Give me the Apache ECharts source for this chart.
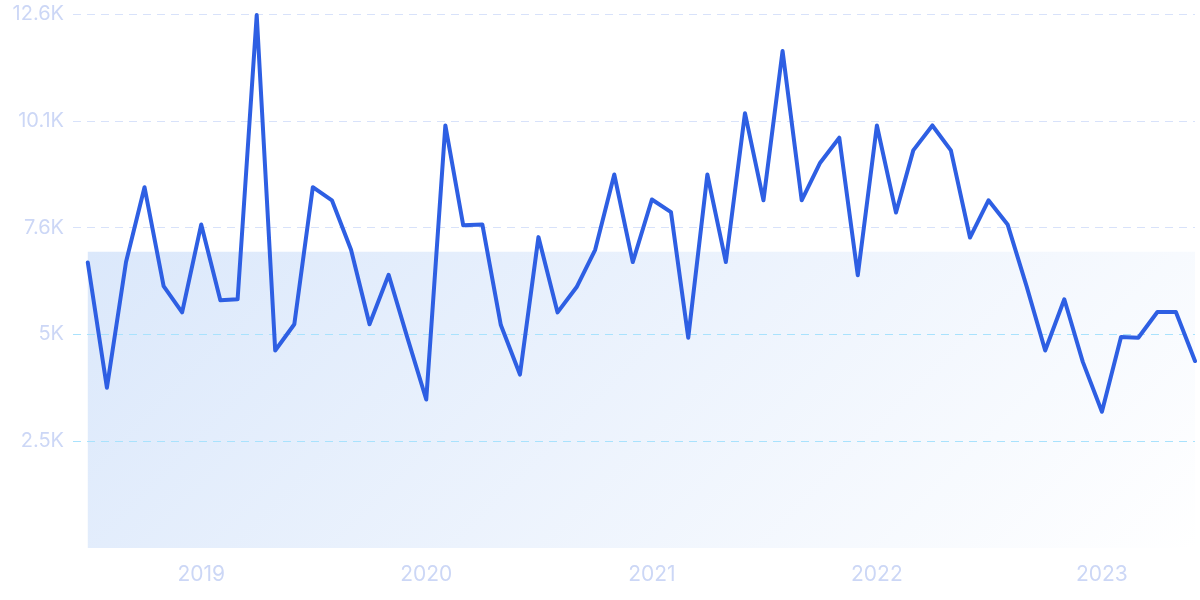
<!DOCTYPE html>
<html>
<head>
<meta charset="utf-8">
<style>
  html, body { margin: 0; padding: 0; background: #ffffff; }
  #chart { width: 1200px; height: 600px; }
</style>
<script src="https://cdn.jsdelivr.net/npm/echarts@6/dist/echarts.min.js"></script>
</head>
<body>
<div id="chart"></div>
<script>
// ---- data ----
const months = [
  '2018-07-01','2018-08-01','2018-09-01','2018-10-01','2018-11-01','2018-12-01',
  '2019-01-01','2019-02-01','2019-03-01','2019-04-01','2019-05-01','2019-06-01',
  '2019-07-01','2019-08-01','2019-09-01','2019-10-01','2019-11-01','2019-12-01',
  '2020-01-01','2020-02-01','2020-03-01','2020-04-01','2020-05-01','2020-06-01',
  '2020-07-01','2020-08-01','2020-09-01','2020-10-01','2020-11-01','2020-12-01',
  '2021-01-01','2021-02-01','2021-03-01','2021-04-01','2021-05-01','2021-06-01',
  '2021-07-01','2021-08-01','2021-09-01','2021-10-01','2021-11-01','2021-12-01',
  '2022-01-01','2022-02-01','2022-03-01','2022-04-01','2022-05-01','2022-06-01',
  '2022-07-01','2022-08-01','2022-09-01','2022-10-01','2022-11-01','2022-12-01',
  '2023-01-01','2023-02-01','2023-03-01','2023-04-01','2023-05-01','2023-06-01'
];
const values = [
  6750, 3790, 6760, 8530, 6190, 5570,
  7650, 5860, 5880, 12600, 4670, 5290,
  8530, 8220, 7050, 5290, 6460, 4990,
  3510, 9990, 7630, 7650, 5270, 4100,
  7350, 5570, 6170, 7050, 8830, 6760,
  8240, 7940, 4970, 8830, 6760, 10280,
  8220, 11750, 8220, 9110, 9700, 6450,
  9990, 7930, 9400, 9990, 9400, 7340,
  8220, 7650, 6180, 4670, 5880, 4400,
  3220, 4990, 4970, 5580, 5580, 4420
];
const yTickLabels = ['', '2.5K', '5K', '7.6K', '10.1K', '12.6K'];
const yMax = 12625;
const yInterval = 2525;
const lowGridValues = [2525, 5050];
const xMin = '2018-06-07';
const xMax = '2023-06-01';

const seriesData = months.map((m, i) => [m, values[i]]);
const average = values.reduce((a, b) => a + b, 0) / values.length;

const chart = echarts.init(document.getElementById('chart'), null, { renderer: 'canvas' });
const labelColor = '#ccd7f6';
const option = {
  animation: false,
  backgroundColor: '#ffffff',
  grid: { left: 73, right: 5, top: 14, bottom: 52, containLabel: false },
  xAxis: {
    type: 'time',
    min: xMin,
    max: xMax,
    minInterval: 365 * 24 * 3600 * 1000,
    splitNumber: 5,
    axisLine: { show: false },
    axisTick: { show: false },
    splitLine: { show: false },
    axisLabel: {
      formatter: '{yyyy}',
      color: labelColor,
      fontSize: 21,
      fontFamily: 'Inter',
      margin: 16,
      showMinLabel: false,
      showMaxLabel: false
    }
  },
  yAxis: {
    type: 'value',
    min: 0,
    max: yMax,
    interval: yInterval,
    axisLine: { show: false },
    axisTick: { show: false },
    axisLabel: {
      color: labelColor,
      fontSize: 20,
      fontFamily: 'Inter',
      margin: 9,
      formatter: (v) => yTickLabels[Math.round(v / yInterval)] || ''
    },
    splitLine: {
      show: true,
      lineStyle: {
        color: ['rgba(0,0,0,0)', '#a9e2fd', '#a9e2fd', '#d8e2fa', '#d8e2fa', '#d8e2fa'],
        width: 1,
        type: [8, 6]
      }
    }
  },
  series: [{
    type: 'line',
    data: seriesData,
    showSymbol: false,
    symbol: 'none',
    lineStyle: { color: '#2e5fe3', width: 4, join: 'round', cap: 'round' },
    itemStyle: { color: '#2e5fe3' },
    z: 5,
    markArea: {
      silent: true,
      z: 1,
      itemStyle: {
        color: new echarts.graphic.LinearGradient(0, 0, 0.634, 2.37, [
          { offset: 0, color: '#dbe8fb' },
          { offset: 1, color: '#ffffff' }
        ])
      },
      data: [[
        { xAxis: months[0], yAxis: 0 },
        { xAxis: months[months.length - 1], yAxis: average }
      ]]
    },
    markLine: {
      silent: true,
      symbol: 'none',
      label: { show: false },
      lineStyle: { color: '#a9e2fd', width: 1, type: [8, 6] },
      data: lowGridValues.map((v) => ({ yAxis: v }))
    }
  }]
};
chart.setOption(option);
</script>
</body>
</html>
